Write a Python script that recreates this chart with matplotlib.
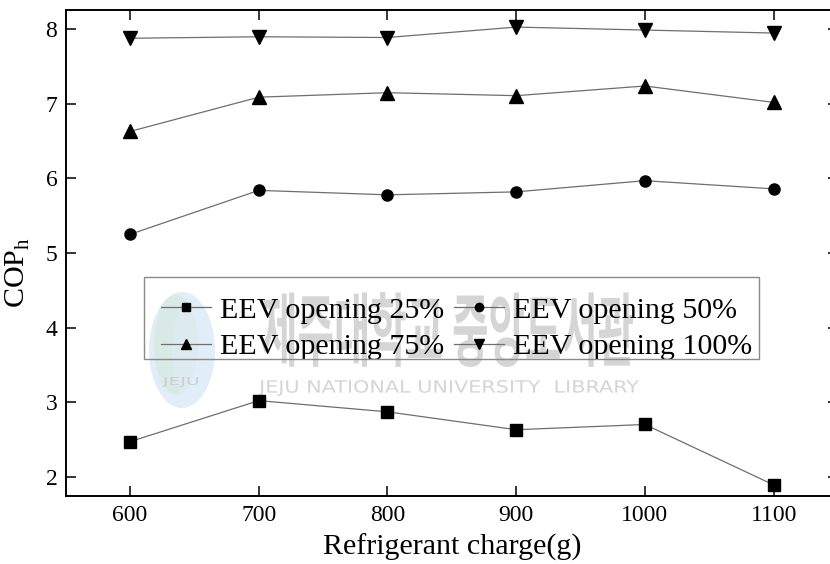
import matplotlib
matplotlib.use("Agg")
import matplotlib.pyplot as plt
from matplotlib.textpath import TextPath
from matplotlib.patches import PathPatch, Ellipse, Rectangle
from matplotlib.font_manager import FontProperties
from matplotlib.transforms import Affine2D

# Refrigerant charge (g) and heating COP for each EEV opening
charge = [600, 700, 800, 900, 1000, 1100]
cop_25 = [2.47, 3.02, 2.87, 2.63, 2.70, 1.89]
cop_50 = [5.25, 5.84, 5.78, 5.82, 5.97, 5.86]
cop_75 = [6.63, 7.09, 7.15, 7.11, 7.24, 7.02]
cop_100 = [7.88, 7.90, 7.89, 8.03, 7.99, 7.95]

series_labels = ["EEV opening 25%", "EEV opening 50%",
                 "EEV opening 75%", "EEV opening 100%"]
series_markers = ["s", "o", "^", "v"]
x_ticks = [600, 700, 800, 900, 1000, 1100]
y_ticks = [2, 3, 4, 5, 6, 7, 8]

W, H = 830, 564
plt.rcParams["font.family"] = ["Liberation Serif", "DejaVu Serif"]
plt.rcParams["mathtext.fontset"] = "custom"
plt.rcParams["mathtext.rm"] = "Liberation Serif"

fig = plt.figure(figsize=(W / 100, H / 100), dpi=100, facecolor="white")
ax = fig.add_axes([65.7 / W, 1 - 495.7 / H, (838 - 65.7) / W, (495.7 - 10.3) / H])
ax.set_facecolor("none")

handles = []
for vals, lab, mk in zip([cop_25, cop_50, cop_75, cop_100], series_labels, series_markers):
    ms = 9.5 if mk in ("^", "v") else 8
    ln, = ax.plot(charge, vals, color="#6e6e6e", lw=0.9, marker=mk, ms=ms,
                  mfc="black", mec="black", label=lab, zorder=3)
    handles.append(ln)

ax.set_xlim(550, 1150)
ax.set_ylim(1.745, 8.255)
ax.set_xticks(x_ticks)
ax.set_yticks(y_ticks)
ax.tick_params(direction="in", length=7, width=1.1, labelsize=17,
               top=True, right=True, pad=6)
ax.tick_params(axis="x", pad=7)
for s in ax.spines.values():
    s.set_linewidth(1.4)

ax.set_xlabel("Refrigerant charge(g)", fontsize=21.6)
ax.xaxis.set_label_coords(0.5, -0.078)
ax.xaxis.label.set_va("top")
ax.set_ylabel(r"COP$_\mathregular{h}$", fontsize=21.6)
ax.yaxis.set_label_coords(-0.043, 0.46)

# legend entries laid out row by row: 25% | 50% on top, 75% | 100% below
order = [0, 2, 1, 3]
leg = ax.legend([handles[i] for i in order], [series_labels[i] for i in order],
                ncol=2, loc="upper left",
                bbox_to_anchor=(160.7 / W, 1 - 296.5 / H),
                bbox_transform=fig.transFigure, borderaxespad=0, borderpad=0,
                fontsize=21.6, frameon=False,
                handlelength=1.67, handletextpad=0.32, columnspacing=0.3,
                labelspacing=0.33, markerscale=0.75)
fig.patches.append(Rectangle((144 / W, 1 - 359.3 / H), (759.3 - 144) / W, 82 / H,
                             transform=fig.transFigure, facecolor="none",
                             edgecolor="#8a8a8a", lw=1.0, zorder=2))


def place_text(txt, x0, y0, x1, y1, family, color, alpha, weight="normal", z=-1):
    """Stretch a text outline into the pixel box (x0, y0)-(x1, y1), y from top."""
    tp = TextPath((0, 0), txt, size=1,
                  prop=FontProperties(family=family, weight=weight))
    ext = tp.get_extents()
    sx = (x1 - x0) / ext.width
    sy = (y1 - y0) / ext.height
    tr = (Affine2D().translate(-ext.x0, -ext.y0).scale(sx / W, sy / H)
          .translate(x0 / W, 1 - y1 / H) + fig.transFigure)
    fig.patches.append(PathPatch(tp, transform=tr, facecolor=color,
                                 edgecolor="none", alpha=alpha, zorder=z))


# library watermark
for (cx, cy, w, h, col) in [(182, 350, 66, 116, "#c4dcf0"), (176, 345, 44, 100, "#d3e9d6"),
                            (190, 352, 36, 96, "#e1edf7")]:
    e = Ellipse((cx / W, 1 - cy / H), w / W, h / H, transform=fig.transFigure,
                facecolor=col, edgecolor="none", alpha=0.5, zorder=-1)
    fig.patches.append(e)
place_text("JEJU", 162, 377, 198, 387, "DejaVu Sans", "#c8c8c8", 0.8)
place_text("제주대학교 중앙도서관", 262, 292, 633, 367, "Noto Sans CJK KR", "#c4c4c4", 0.7,
           weight="bold")
place_text("JEJU NATIONAL UNIVERSITY  LIBRARY", 258, 380, 639, 396,
           "DejaVu Sans", "#c4c4c4", 0.7)

fig.savefig("out.png", dpi=100, facecolor="white")
